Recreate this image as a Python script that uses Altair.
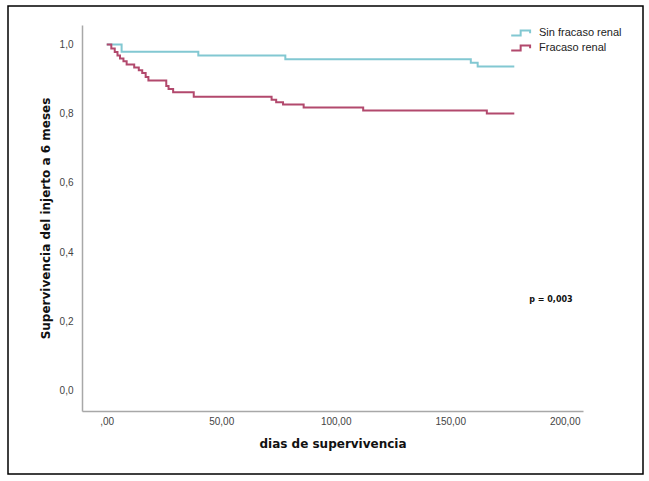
import altair as alt
import pandas as pd

# ---- data ----
groups = ["Sin fracaso renal", "Fracaso renal"]
colors = ["#82c8d2", "#b2496d"]

sin_days = [0, 6.5, 40, 78, 159, 162, 178]
sin_surv = [1.0, 0.979, 0.968, 0.957, 0.947, 0.936, 0.936]

fr_days = [0, 2, 3.5, 4.7, 5.8, 7.3, 8.7, 12, 14, 15.5, 17, 18.2, 26, 27, 29,
           38, 72, 74, 77, 86, 112, 166, 178]
fr_surv = [1.0, 0.988, 0.978, 0.968, 0.959, 0.951, 0.942, 0.933, 0.925, 0.917,
           0.906, 0.896, 0.880, 0.871, 0.862, 0.849, 0.840, 0.833, 0.826, 0.818,
           0.809, 0.800, 0.800]

x_ticks = [0, 50, 100, 150, 200]
y_ticks = [0.0, 0.2, 0.4, 0.6, 0.8, 1.0]

p_text = ["p = 0,003"]
p_x = [194]
p_y = [0.262]

rows = []
for d, s in zip(sin_days, sin_surv):
    rows.append({"grupo": groups[0], "dias": d, "surv": s})
for d, s in zip(fr_days, fr_surv):
    rows.append({"grupo": groups[1], "dias": d, "surv": s})
df = pd.DataFrame(rows)

ann = pd.DataFrame({"label": p_text, "x": p_x, "y": p_y})

xscale = alt.Scale(domain=[-10.8, 208], nice=False, zero=False)
yscale = alt.Scale(domain=[-0.059, 1.056], nice=False, zero=False)

legend_symbol = "M-1.4,0.35L-0.05,0.35L-0.05,-0.35L1.3,-0.35L1.3,0.05"

lines = alt.Chart(df).mark_line(interpolate="step-after", strokeWidth=2).encode(
    x=alt.X("dias:Q", scale=xscale,
            axis=alt.Axis(title="dias de supervivencia", values=x_ticks,
                          labelExpr="datum.value == 0 ? ',00' : replace(format(datum.value, '.2f'), '.', ',')",
                          labelPadding=5, titlePadding=12)),
    y=alt.Y("surv:Q", scale=yscale,
            axis=alt.Axis(title="Supervivencia del injerto a 6 meses", values=y_ticks,
                          labelExpr="replace(format(datum.value, '.1f'), '.', ',')",
                          labelPadding=9, titlePadding=7)),
    color=alt.Color("grupo:N",
                    scale=alt.Scale(domain=groups, range=colors),
                    sort=groups,
                    legend=alt.Legend(title=None, orient="none", legendX=431, legendY=0,
                                      symbolType=legend_symbol, symbolSize=196,
                                      symbolStrokeWidth=2, symbolFillColor="transparent",
                                      labelFont="Liberation Sans", labelFontSize=11,
                                      labelColor="#222222", labelOffset=10,
                                      rowPadding=0, padding=0)),
)

ptext = alt.Chart(ann).mark_text(font="DejaVu Sans", fontWeight="bold", fontSize=8,
                                 color="#111111", align="center", baseline="middle").encode(
    x=alt.X("x:Q", scale=xscale),
    y=alt.Y("y:Q", scale=yscale),
    text="label:N",
)

frame = alt.Chart(pd.DataFrame({"a": [0]})).mark_rect(
    filled=False, stroke="black", strokeWidth=1.5, clip=False
).encode(
    x=alt.value(-74), x2=alt.value(561), y=alt.value(-19), y2=alt.value(449)
)

chart = alt.layer(frame, lines, ptext).properties(
    width=501, height=386,
    autosize=alt.AutoSizeParams(type="none"),
    padding={"left": 82, "top": 25, "right": 66, "bottom": 70},
    background="white",
).configure_view(stroke="transparent").configure_axis(
    grid=False, ticks=False, domainColor="#a8a8a8", domainWidth=1.5,
    labelFont="Liberation Sans", labelFontSize=10, labelColor="#444444",
    titleFont="DejaVu Sans", titleFontSize=12, titleFontWeight="bold", titleColor="#111111",
)

chart.save("out.html", embed_options={"renderer": "svg", "actions": False})
